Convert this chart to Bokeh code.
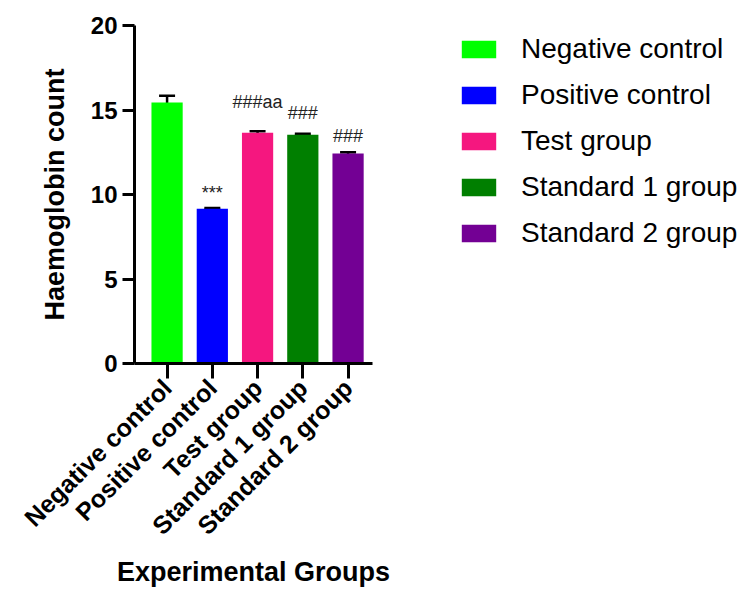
from bokeh.plotting import figure
from bokeh.models import (ColumnDataSource, Range1d, FixedTicker, Whisker, TeeHead,
                          Legend, LegendItem)
from bokeh.core.properties import value
from bokeh.embed import file_html
from bokeh.resources import INLINE

groups = ["Negative control", "Positive control", "Test group", "Standard 1 group", "Standard 2 group"]
means = [15.45, 9.15, 13.65, 13.53, 12.42]
errors = [0.40, 0.05, 0.10, 0.07, 0.08]
colors = ["#00FF00", "#0000FF", "#F5177F", "#007F00", "#730094"]
annotations = ["", "***", "###aa", "###", "###"]
annot_y = [0, 10.1, 15.45, 14.8, 13.45]
y_ticks = [0, 5, 10, 15, 20]

FONT = "Liberation Sans"
xs = list(range(len(groups)))

src = ColumnDataSource(dict(
    x=xs, top=means, color=colors, group=groups,
    upper=[m + e for m, e in zip(means, errors)],
    lower=[m - e for m, e in zip(means, errors)],
    ann=annotations, ann_y=annot_y,
))

p = figure(frame_width=238, frame_height=338,
           x_range=Range1d(-0.72, 4.54), y_range=Range1d(0, 20),
           output_backend="svg", toolbar_location=None,
           min_border_left=134, min_border_top=25, min_border_bottom=218,
           min_border_right=364)
p.outline_line_color = None
p.grid.visible = False
p.background_fill_color = "white"

bars = p.vbar(x="x", top="top", width=0.69, source=src, fill_color="color", line_color=None)

w = Whisker(source=src, base="x", upper="upper", lower="lower", dimension="height",
            line_color="black", line_width=2.5,
            upper_head=TeeHead(size=16, line_width=2.5, line_color="black"),
            lower_head=TeeHead(size=16, line_width=2.5, line_color="black"))
p.add_layout(w)

p.text(x="x", y="ann_y", text="ann", source=src, text_align="center",
       text_baseline="middle", text_font=value(FONT), text_font_size="18px",
       text_color="#222222")

# Y axis
ya = p.yaxis[0]
ya.ticker = FixedTicker(ticks=y_ticks)
ya.minor_tick_line_color = None
ya.axis_line_width = 3
ya.major_tick_line_width = 3
ya.major_tick_out = 12
ya.major_tick_in = 0
ya.major_label_standoff = 5
ya.major_label_text_font = FONT
ya.major_label_text_font_style = "bold"
ya.major_label_text_font_size = "24px"
ya.major_label_text_color = "black"
ya.axis_label = "Haemoglobin count"
ya.axis_label_text_font = FONT
ya.axis_label_text_font_style = "bold"
ya.axis_label_text_font_size = "27px"
ya.axis_label_text_color = "black"
ya.axis_label_standoff = 18

# X axis
xa = p.xaxis[0]
xa.ticker = FixedTicker(ticks=xs)
xa.major_label_overrides = {i: g for i, g in enumerate(groups)}
xa.minor_tick_line_color = None
xa.axis_line_width = 3
xa.major_tick_line_width = 3
xa.major_tick_out = 15
xa.major_tick_in = 0
xa.major_label_orientation = 0.785398
xa.major_label_standoff = 5
xa.major_label_text_font = FONT
xa.major_label_text_font_style = "bold"
xa.major_label_text_font_size = "25px"
xa.major_label_text_color = "black"
xa.axis_label = "Experimental Groups"
xa.axis_label_text_font = FONT
xa.axis_label_text_font_style = "bold"
xa.axis_label_text_font_size = "27px"
xa.axis_label_text_color = "black"
xa.axis_label_standoff = 4

items = [LegendItem(label=g, renderers=[bars], index=i) for i, g in enumerate(groups)]
legend = Legend(items=items, location=(85, 114), orientation="vertical",
                glyph_width=43, glyph_height=22, label_standoff=21,
                label_text_font=FONT, label_text_font_size="28px",
                label_text_color="black",
                spacing=14, padding=0, margin=0, border_line_color=None,
                background_fill_alpha=0)
p.add_layout(legend, "right")

open("out.html", "w").write(file_html(p, INLINE))
